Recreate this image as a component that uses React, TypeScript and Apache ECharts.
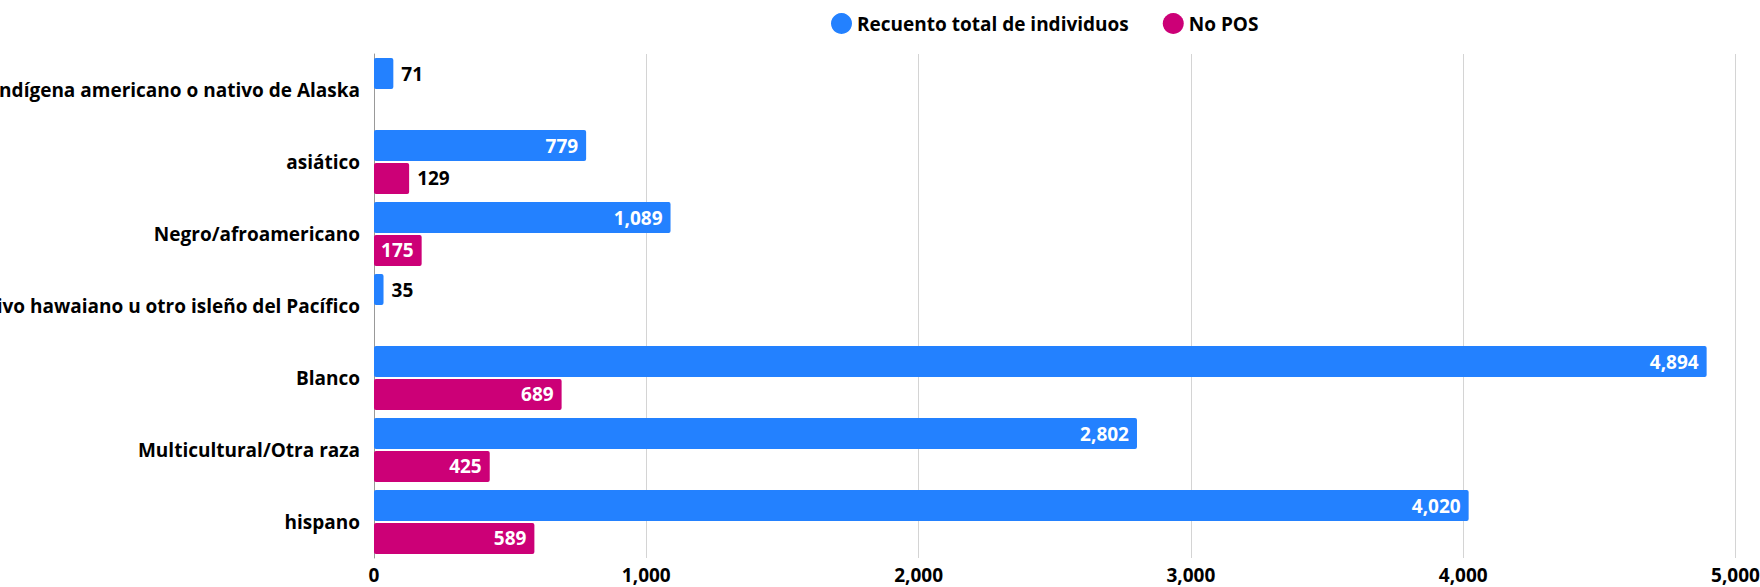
import React, { useEffect, useRef } from "react";
import * as echarts from "echarts";

const categories = [
  "Indígena americano o nativo de Alaska",
  "asiático",
  "Negro/afroamericano",
  "Nativo hawaiano u otro isleño del Pacífico",
  "Blanco",
  "Multicultural/Otra raza",
  "hispano",
];
const totalCounts = [71, 779, 1089, 35, 4894, 2802, 4020];
const noPosCounts: (number | null)[] = [null, 129, 175, null, 689, 425, 589];
const xTicks = [0, 1000, 2000, 3000, 4000, 5000];

const BLUE = "#2381FF";
const MAGENTA = "#CC0077";
const FONT = "'Open Sans', 'Noto Sans', sans-serif";

const fmt = (v: number) => v.toLocaleString("en-US");

function makeData(values: (number | null)[]) {
  return values.map((v) => {
    if (v == null) return { value: null, label: { show: false } };
    const inside = v >= 150;
    return {
      value: v,
      label: inside
        ? { show: true, position: "insideRight", color: "#ffffff", distance: 8 }
        : { show: true, position: "right", color: "#000000", distance: 8 },
    };
  });
}

export default function App() {
  const ref = useRef<HTMLDivElement>(null);
  useEffect(() => {
    document.body.style.margin = "0";
    const chart = echarts.init(ref.current!, null, { renderer: "svg" });
    const labelCommon = {
      fontFamily: FONT,
      fontWeight: "bold",
      fontSize: 19,
      formatter: (p: any) => fmt(p.value),
    };
    chart.setOption({
      animation: false,
      textStyle: { fontFamily: FONT },
      legend: {
        top: 8,
        left: 826,
        icon: "circle",
        itemWidth: 21,
        itemHeight: 21,
        itemGap: 34,
        textStyle: { fontFamily: FONT, fontWeight: "bold", fontSize: 19, color: "#000" },
        data: ["Recuento total de individuos", "No POS"],
      },
      grid: {
        left: 374,
        right: 24.5,
        top: 54,
        bottom: 29,
        containLabel: false,
        outerBoundsMode: "none",
      },
      xAxis: {
        type: "value",
        min: xTicks[0],
        max: xTicks[xTicks.length - 1],
        interval: 1000,
        axisLine: { show: false },
        axisTick: { show: false },
        splitLine: { show: true, lineStyle: { color: "#d4d4d4", width: 1 } },
        axisLabel: {
          color: "#000",
          fontFamily: FONT,
          fontWeight: "bold",
          fontSize: 19,
          margin: 7,
          formatter: (v: number) => fmt(v),
        },
      },
      yAxis: {
        type: "category",
        inverse: true,
        data: categories,
        axisLine: { show: true, lineStyle: { color: "#999999", width: 1 } },
        axisTick: { show: false },
        axisLabel: {
          color: "#000",
          fontFamily: FONT,
          fontWeight: "bold",
          fontSize: 19,
          margin: 14,
        },
      },
      series: [
        {
          name: "Recuento total de individuos",
          type: "bar",
          data: makeData(totalCounts),
          barWidth: 31,
          barGap: "6%",
          itemStyle: { color: BLUE, borderRadius: 2 },
          label: labelCommon,
        },
        {
          name: "No POS",
          type: "bar",
          data: makeData(noPosCounts),
          barWidth: 31,
          barGap: "6%",
          itemStyle: { color: MAGENTA, borderRadius: 2 },
          label: labelCommon,
        },
      ],
    });
    return () => chart.dispose();
  }, []);
  return <div ref={ref} style={{ width: 1760, height: 587 }} />;
}
